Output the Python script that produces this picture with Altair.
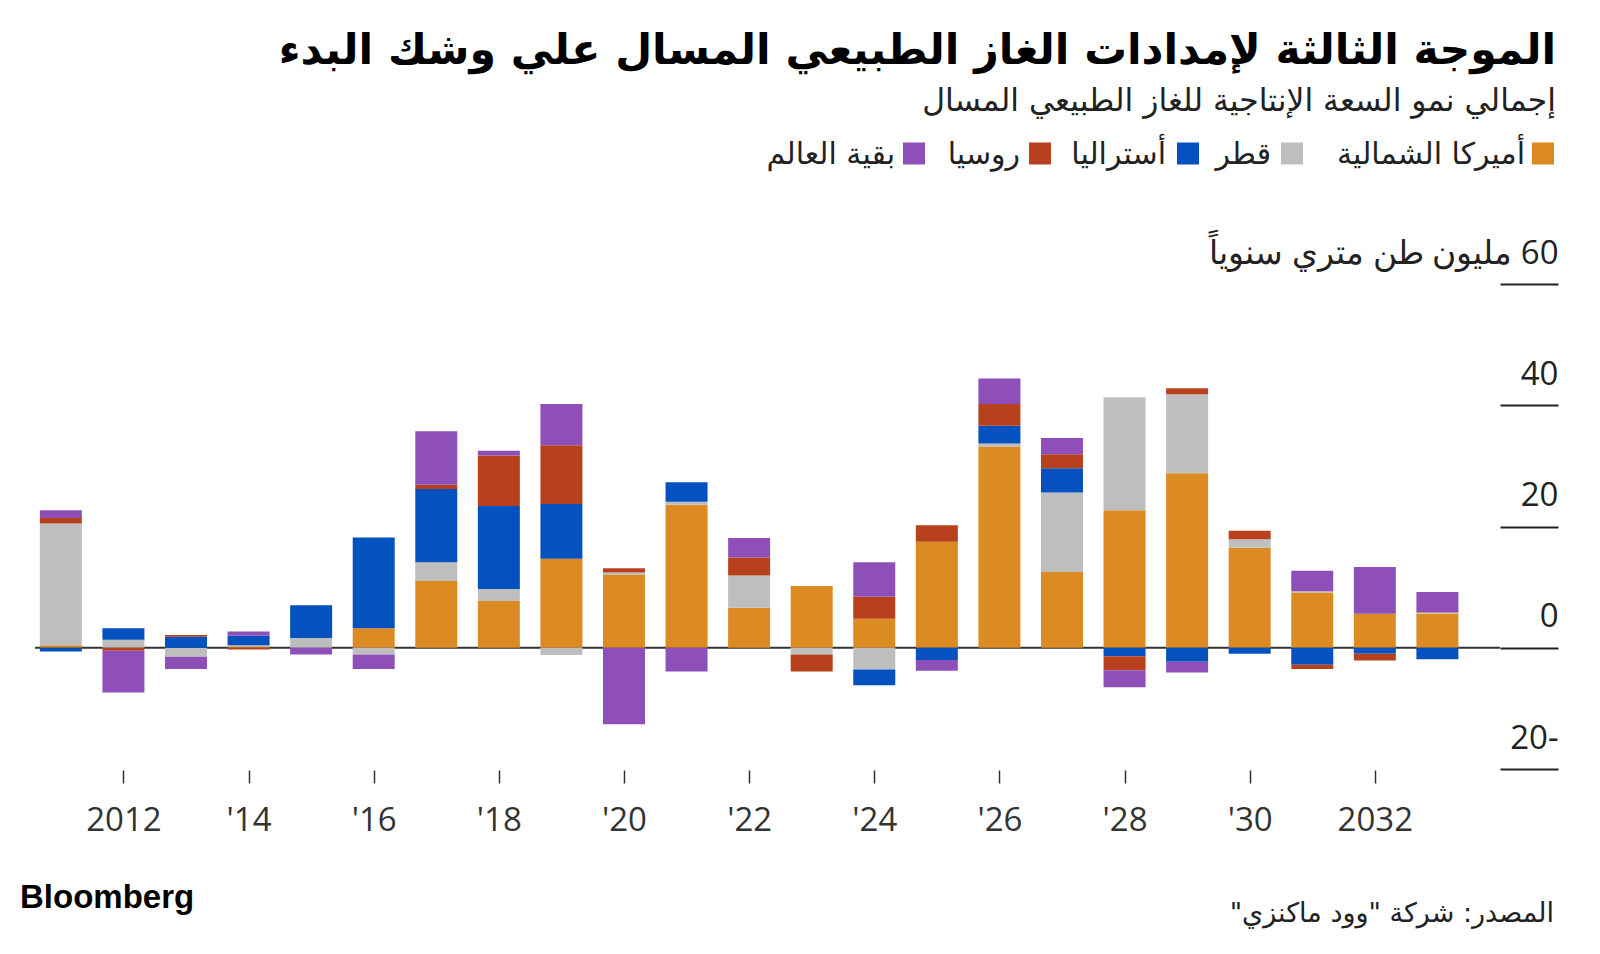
import altair as alt
import pandas as pd

# ---------------- data ----------------
YEARS = list(range(2011, 2034))
REGIONS = ["أميركا الشمالية", "قطر", "أستراليا", "روسيا", "بقية العالم"]
COLORS = ["#DC8A22", "#BEBEBE", "#0451BF", "#B7411C", "#8E50B8"]

NORTH_AMERICA = [0.4, 0, 0, 0.2, 0, 3.2, 11.0, 7.7, 14.7, 12.0, 23.6, 6.6, 10.2,
                 4.8, 17.5, 33.2, 12.5, 22.7, 28.8, 16.5, 9.1, 5.6, 5.6]
QATAR = [20.1, 1.3, -1.5, 0.2, 1.6, -1.1, 3.1, 2.0, -1.2, 0.4, 0.5, 5.3, -1.1,
         -3.6, 0, 0.5, 13.1, 18.6, 13.0, 1.4, 0.2, 0, 0.2]
AUSTRALIA = [-0.6, 1.9, 1.8, 1.6, 5.4, 15.0, 12.1, 13.7, 9.0, 0, 3.2, 0, 0,
             -2.6, -2.0, 2.9, 4.0, -1.4, -2.3, -1.0, -2.8, -1.0, -1.9]
RUSSIA = [0.9, -0.5, 0.3, -0.3, 0, 0, 0.7, 8.3, 9.7, 0.7, 0, 3.0, -2.8,
          3.6, 2.7, 3.6, 2.3, -2.3, 1.0, 1.4, -0.7, -1.1, 0.1]
REST_OF_WORLD = [1.3, -6.9, -2.0, 0.7, -1.1, -2.4, 8.8, 0.8, 6.8, -12.6, -3.9, 3.2, 0,
                 5.7, -1.8, 4.2, 2.7, -2.8, -1.8, 0, 3.4, 7.7, 3.3]

Y_TICKS = [-20, 0, 20, 40, 60]
X_TICKS = list(range(2012, 2033, 2))

TITLE = "الموجة الثالثة لإمدادات الغاز الطبيعي المسال علي وشك البدء"
SUBTITLE = "إجمالي نمو السعة الإنتاجية للغاز الطبيعي المسال"
UNIT = "مليون طن متري سنوياً"
SOURCE = 'المصدر: شركة "وود ماكنزي"'
BRAND = "Bloomberg"

# ---------------- layout ----------------
PLOT_W, PLOT_H = 1465, 485
OX, OY = 35, 284  # page position of the plot origin
PAD = {"left": OX - 8, "top": OY - 8, "right": 1592 - (OX + PLOT_W), "bottom": 946 - (OY + PLOT_H)}
AR_FONT = "DejaVu Sans"
NUM_FONT = "Open Sans"

series = [NORTH_AMERICA, QATAR, AUSTRALIA, RUSSIA, REST_OF_WORLD]
rows = []
for ri, (name, vals) in enumerate(zip(REGIONS, series)):
    for y, v in zip(YEARS, vals):
        if v != 0:
            rows.append({"year": y, "region": name, "value": v, "order": ri})
df = pd.DataFrame(rows)

color_scale = alt.Scale(domain=REGIONS, range=COLORS)

x_enc = alt.X(
    "year:Q",
    scale=alt.Scale(domain=[2011 - 21 / 63, 2011 + (PLOT_W - 21) / 63], nice=False, zero=False),
    axis=alt.Axis(
        values=X_TICKS,
        labelExpr="(datum.value == 2012 || datum.value == 2032) ? '' + datum.value : \"'\" + substring('' + datum.value, 2, 4)",
        tickSize=13, tickWidth=1.5, tickColor="#333", domain=False, grid=False,
        labelFont=NUM_FONT, labelFontSize=33, labelColor="#333",
        labelBaseline="alphabetic", labelPadding=47, offset=1, title=None,
        labelFlush=False, labelOverlap=False,
    ),
)

unit_label = UNIT + " \u200e60"
y_enc = alt.Y(
    "value:Q",
    stack="zero",
    scale=alt.Scale(domain=[-20, 60], nice=False, zero=False),
    axis=alt.Axis(
        orient="right", values=Y_TICKS,
        labelExpr="datum.value == 60 ? '" + unit_label + "' : (datum.value < 0 ? (-datum.value) + '-' : '' + datum.value)",
        tickSize=58, tickWidth=2, tickColor="#222", domain=False, grid=False,
        labelAlign="right", labelBaseline="alphabetic", labelOffset=-21, labelPadding=0,
        labelFont=NUM_FONT, labelFontSize=33, labelColor="#222", title=None,
        labelOverlap=False, labelFlush=False, labelLimit=1000,
    ),
)

zero_rule = alt.Chart(alt.Data(values=[{"z": 0}])).mark_rule(color="#333", strokeWidth=2).encode(
    y=alt.datum(0), x=alt.value(0), x2=alt.value(PLOT_W)
)

bars = alt.Chart(df).mark_bar(width=42).encode(
    x=x_enc,
    y=y_enc,
    color=alt.Color("region:N", scale=color_scale, legend=None),
    order=alt.Order("order:Q", sort="ascending"),
)


def text_layer(txt, px, py, size, weight="normal", align="right", font=AR_FONT, color="#111"):
    return alt.Chart(alt.Data(values=[{"t": txt}])).mark_text(
        align=align, baseline="alphabetic", font=font, fontSize=size,
        fontWeight=weight, color=color, limit=0,
    ).encode(x=alt.value(px - OX), y=alt.value(py - OY), text="t:N")


layers = [zero_rule, bars]
layers.append(text_layer(TITLE, 1556, 64, 42.6, weight="bold", color="#000"))
layers.append(text_layer(SUBTITLE, 1556, 111, 31.4, color="#222"))

# custom right-to-left legend: square then label
LEG_SQ_X = [1543, 1292, 1188, 1040, 914]
LEG_TX_X = [1525, 1271, 1166, 1020, 895]
for name, col, sx, tx in zip(REGIONS, COLORS, LEG_SQ_X, LEG_TX_X):
    layers.append(
        alt.Chart(alt.Data(values=[{"n": name}])).mark_square(size=484, opacity=1, color=col).encode(
            x=alt.value(sx - OX), y=alt.value(153.5 - OY)
        )
    )
    layers.append(text_layer(name, tx, 164, 30, color="#222"))

layers.append(text_layer(BRAND, 20, 908, 33, weight="bold", align="left", font="Liberation Sans", color="#000"))
layers.append(text_layer(SOURCE + "\u200f", 1554, 922, 27, color="#222"))

chart = alt.layer(*layers).properties(
    width=PLOT_W, height=PLOT_H,
    padding=PAD,
    autosize=alt.AutoSizeParams(type="none"),
    background="#ffffff",
).configure_view(stroke=None)

chart.save("out.html", embed_options={"renderer": "svg", "actions": False})
